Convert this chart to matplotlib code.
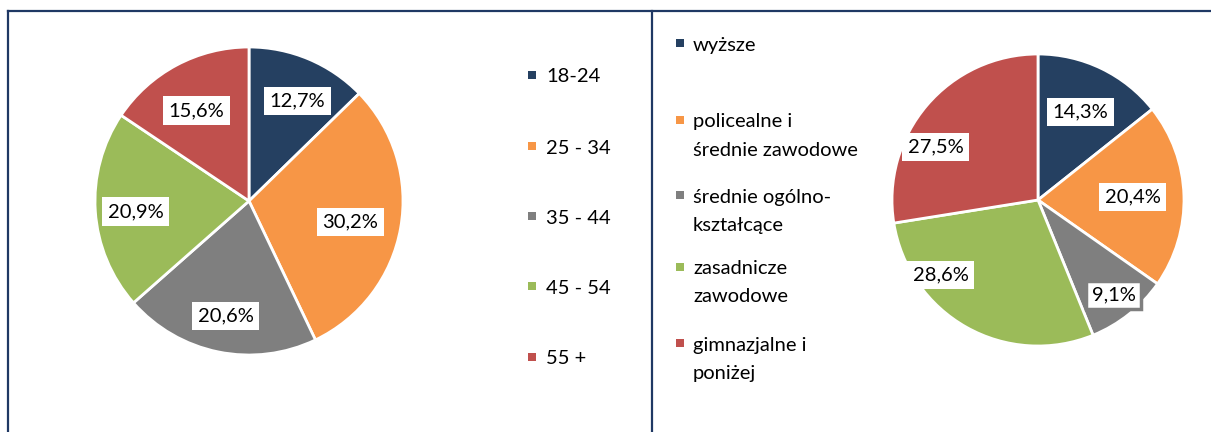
import numpy as np
import matplotlib
matplotlib.use("Agg")
import matplotlib.pyplot as plt
from matplotlib.patches import Rectangle
from matplotlib.lines import Line2D

plt.rcParams['font.family'] = ['Lato', 'DejaVu Sans']

# data
age_groups = ["18-24", "25 - 34", "35 - 44", "45 - 54", "55 +"]
age_share = [12.7, 30.2, 20.6, 20.9, 15.6]

edu_levels = ["wyższe", "policealne i\nśrednie zawodowe", "średnie ogólno-\nkształcące",
              "zasadnicze\nzawodowe", "gimnazjalne i\nponiżej"]
edu_share = [14.3, 20.4, 9.1, 28.6, 27.5]

colors = ["#254061", "#F79646", "#7F7F7F", "#9BBB59", "#C0504D"]
border = "#1F3864"
FS = 14.5

W, H = 1211, 432
fig = plt.figure(figsize=(W / 100, H / 100), dpi=100)


def px_axes(cx, cy, r):
    # square axes in pixel coords (y from top)
    return fig.add_axes([(cx - r) / W, (H - cy - r) / H, 2 * r / W, 2 * r / H])


def draw_pie(ax, values, dists, shifts, framed=()):
    wedges, _ = ax.pie(values, colors=colors, startangle=90, counterclock=False,
                       wedgeprops=dict(edgecolor="white", linewidth=2))
    ax.set_xlim(-1, 1)
    ax.set_ylim(-1, 1)
    ax.set_aspect("equal")
    ax.axis("off")
    for i, (w, v) in enumerate(zip(wedges, values)):
        ang = np.deg2rad((w.theta1 + w.theta2) / 2 + shifts[i])
        ec = colors[i] if i in framed else "none"
        ax.text(dists[i] * np.cos(ang), dists[i] * np.sin(ang),
                f"{v:.1f}%".replace(".", ","), ha="center", va="center",
                fontsize=FS, color="black", zorder=5,
                bbox=dict(boxstyle="square,pad=0.28", fc="white", ec=ec, lw=2.5))


ax1 = px_axes(249, 201, 154)
draw_pie(ax1, age_share, [0.72, 0.67, 0.76, 0.74, 0.68], [-3, -1.5, 0, 1.5, 2])

ax2 = px_axes(1038, 200, 146)
draw_pie(ax2, edu_share, [0.67, 0.65, 0.83, 0.84, 0.79], [0, 0, 0, -23, 13], framed=(2,))


def legend(labels, mx, tx, ys, size=8, step=28):
    for lab, c, y in zip(labels, colors, ys):
        fig.patches.append(Rectangle((mx / W, (H - y - size / 2) / H), size / W, size / H,
                                     transform=fig.transFigure, fc=c, ec="none"))
        for k, line in enumerate(lab.split("\n")):
            fig.text(tx / W, (H - y - 7.5 - k * step) / H, line, ha="left",
                     va="baseline", fontsize=FS)


legend(age_groups, 528, 546, [75, 146, 216, 286, 357])
legend(edu_levels, 676, 693, [43, 120, 195, 267, 343])

# panel borders
lw = 1.6
fig.add_artist(Line2D([8 / W, 1], [1 - 11 / H] * 2, color=border, lw=lw))
fig.add_artist(Line2D([8 / W] * 2, [0, 1 - 11 / H], color=border, lw=lw))
fig.add_artist(Line2D([652 / W] * 2, [0, 1 - 11 / H], color=border, lw=lw))

fig.savefig("out.png", dpi=100, facecolor="white")
